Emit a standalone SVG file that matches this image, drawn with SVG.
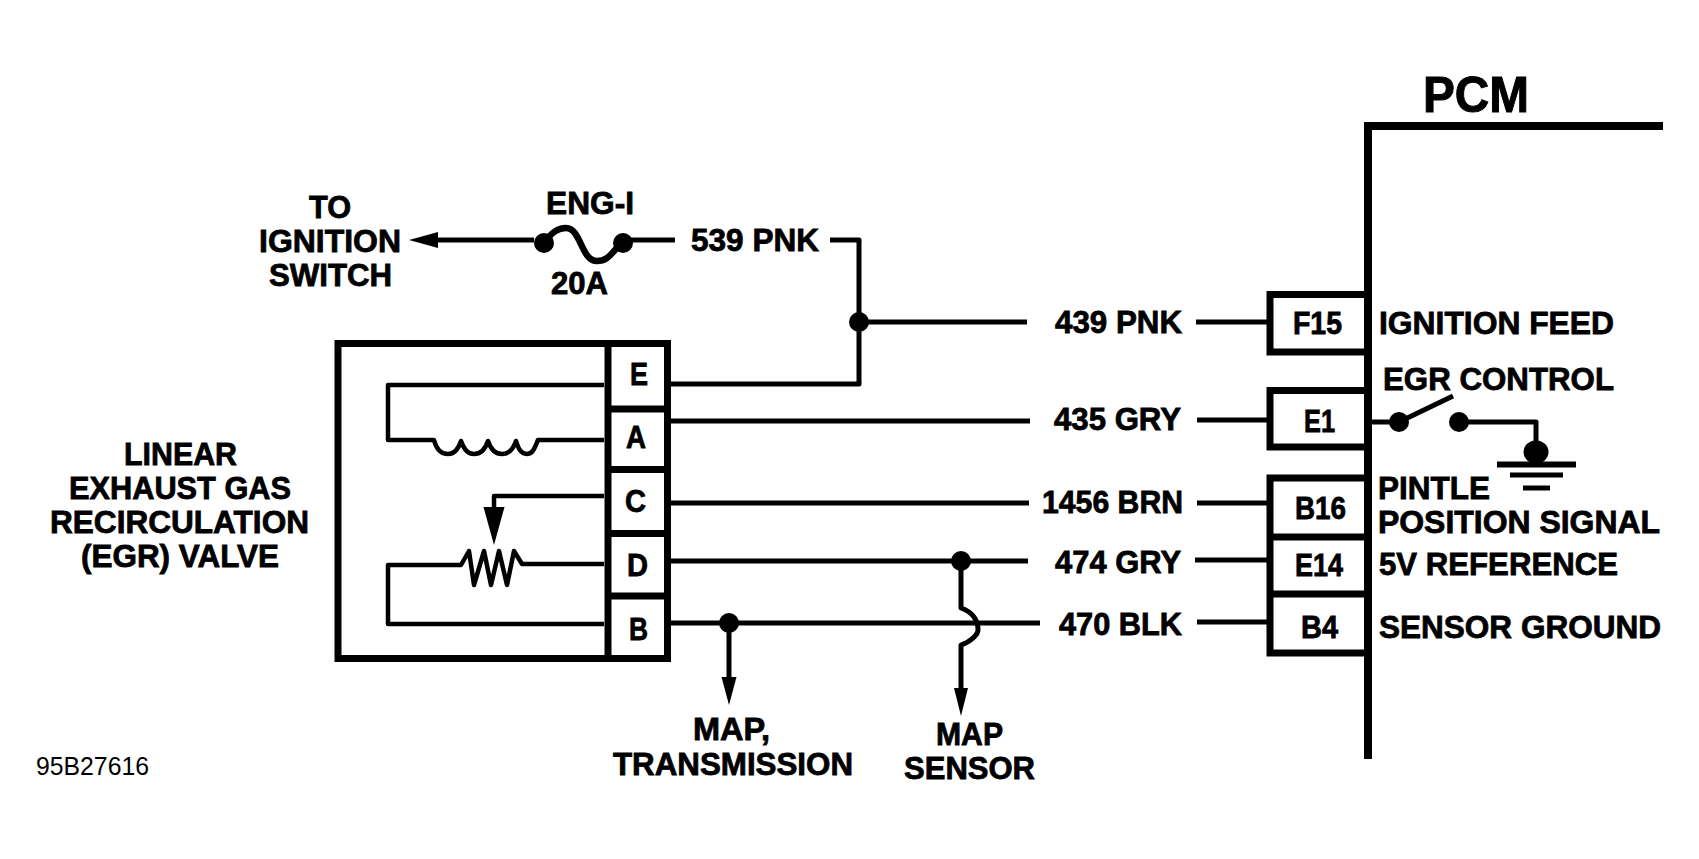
<svg xmlns="http://www.w3.org/2000/svg" width="1699" height="859" viewBox="0 0 1699 859">
<style>
text{font-family:"Liberation Sans",Arial,sans-serif;font-weight:700;font-size:32px;fill:#000;stroke:#000;stroke-width:.8;}
text.id{font-weight:400;font-size:25px;stroke:none;}
text.big{font-size:50px;stroke-width:1;}
.w{fill:none;stroke:#000;stroke-width:5;stroke-linejoin:round;}
.f{fill:none;stroke:#000;stroke-width:6.500;}
.t{fill:none;stroke:#000;stroke-width:4.5;stroke-linejoin:round;}
.b{fill:none;stroke:#000;stroke-width:7;stroke-linejoin:miter;}
.p{fill:none;stroke:#000;stroke-width:8;stroke-linejoin:miter;}
.d{fill:#000;}
</style>
<rect width="1699" height="859" fill="#fff"/>
<g id="connectors">
<path class="w" d="M436,240H534"/>
<path class="w" d="M623,240H675"/>
<path class="w" d="M830,240H859V384H671"/>
<path class="w" d="M859,322H1027"/>
<path class="w" d="M671,421H1030"/>
<path class="w" d="M671,503H1029"/>
<path class="w" d="M671,561H1028"/>
<path class="w" d="M671,623H1040"/>
<path class="w" d="M729,623V680"/>
<path class="w" d="M961,561V608C972,612 978,620 978,630C978,634 972,641 961,645V690"/>
<path class="w" d="M1196,322H1267"/>
<path class="w" d="M1197,420H1267"/>
<path class="w" d="M1197,503H1267"/>
<path class="w" d="M1195,560H1267"/>
<path class="w" d="M1197,622H1267"/>
<path class="d" d="M409,240L438,232V248Z"/>
<path class="d" d="M729,705L721.500,677H736.500Z"/>
<path class="d" d="M961,716L954,688H968Z"/>
<circle class="d" cx="859" cy="322" r="10"/>
<circle class="d" cx="729" cy="623" r="10"/>
<circle class="d" cx="961" cy="561" r="10"/>
</g>
<g id="to-ignition-switch">
<text x="309" y="218" textLength="42" lengthAdjust="spacingAndGlyphs">TO</text>
<text x="259" y="252" textLength="142" lengthAdjust="spacingAndGlyphs">IGNITION</text>
<text x="269" y="286" textLength="123" lengthAdjust="spacingAndGlyphs">SWITCH</text>
</g>
<g id="fuse">
<text x="546" y="214" textLength="88" lengthAdjust="spacingAndGlyphs">ENG-I</text>
<circle class="d" cx="544" cy="243" r="10"/>
<circle class="d" cx="623" cy="243" r="10"/>
<path class="f" d="M544,243C552,232 558,228 566,228C581,228 581,261 597,261C610,261 612,250 623,243"/>
<text x="551" y="294" textLength="57" lengthAdjust="spacingAndGlyphs">20A</text>
</g>
<g id="wire-labels">
<text x="691" y="251" textLength="128" lengthAdjust="spacingAndGlyphs">539 PNK</text>
<text x="1055" y="333" textLength="127" lengthAdjust="spacingAndGlyphs">439 PNK</text>
<text x="1054" y="430" textLength="127" lengthAdjust="spacingAndGlyphs">435 GRY</text>
<text x="1042" y="513" textLength="141" lengthAdjust="spacingAndGlyphs">1456 BRN</text>
<text x="1055" y="573" textLength="126" lengthAdjust="spacingAndGlyphs">474 GRY</text>
<text x="1059" y="635" textLength="123" lengthAdjust="spacingAndGlyphs">470 BLK</text>
</g>
<g id="egr-valve">
<rect class="b" x="338" y="343.500" width="329.500" height="315"/>
<path class="b" d="M608,343.500V658.500M608,409H667M608,469.500H667M608,533.500H667M608,596H667"/>
<text x="630" y="385" textLength="18" lengthAdjust="spacingAndGlyphs">E</text>
<text x="626" y="448" textLength="20" lengthAdjust="spacingAndGlyphs">A</text>
<text x="625" y="512" textLength="21" lengthAdjust="spacingAndGlyphs">C</text>
<text x="627" y="576" textLength="21" lengthAdjust="spacingAndGlyphs">D</text>
<text x="629" y="640" textLength="19" lengthAdjust="spacingAndGlyphs">B</text>
<path class="t" d="M604,385H388V440H434C436,448 440,454 448,454C456,454 459,447 461,441C463,447 466,454 474,454C482,454 486,447 488,441C490,447 494,454 502,454C510,454 514,447 516,441C518,447 520,454 527,454C533,454 535,447 538,440H604"/>
<path class="t" d="M604,496H494V510"/>
<path class="d" d="M494,545L483.500,507H504.500Z"/>
<path class="t" d="M604,564H522L514,551L507,585L499,551L491,585L484,551L474,585L469,551L461,565H388V624H604"/>
<text x="124" y="465" textLength="113" lengthAdjust="spacingAndGlyphs">LINEAR</text>
<text x="69" y="499" textLength="222" lengthAdjust="spacingAndGlyphs">EXHAUST GAS</text>
<text x="50" y="533" textLength="259" lengthAdjust="spacingAndGlyphs">RECIRCULATION</text>
<text x="81" y="567" textLength="198" lengthAdjust="spacingAndGlyphs">(EGR) VALVE</text>
</g>
<g id="pcm">
<path class="p" d="M1663,126H1368V759"/>
<text class="big" x="1423" y="112" textLength="106" lengthAdjust="spacingAndGlyphs">PCM</text>
<path class="b" d="M1368,294.500H1270V352H1368"/>
<path class="b" d="M1368,390.500H1270V447H1368"/>
<path class="b" d="M1368,478H1270V653H1368M1270,537H1368M1270,594H1368"/>
<text x="1293" y="334" textLength="49" lengthAdjust="spacingAndGlyphs">F15</text>
<text x="1304" y="432" textLength="31" lengthAdjust="spacingAndGlyphs">E1</text>
<text x="1295" y="519" textLength="51" lengthAdjust="spacingAndGlyphs">B16</text>
<text x="1295" y="576" textLength="48" lengthAdjust="spacingAndGlyphs">E14</text>
<text x="1301" y="638" textLength="37" lengthAdjust="spacingAndGlyphs">B4</text>
<text x="1379" y="334" textLength="235" lengthAdjust="spacingAndGlyphs">IGNITION FEED</text>
<text x="1383" y="390" textLength="231" lengthAdjust="spacingAndGlyphs">EGR CONTROL</text>
<text x="1378" y="499" textLength="112" lengthAdjust="spacingAndGlyphs">PINTLE</text>
<text x="1378" y="533" textLength="282" lengthAdjust="spacingAndGlyphs">POSITION SIGNAL</text>
<text x="1379" y="575" textLength="239" lengthAdjust="spacingAndGlyphs">5V REFERENCE</text>
<text x="1379" y="638" textLength="282" lengthAdjust="spacingAndGlyphs">SENSOR GROUND</text>
</g>
<g id="egr-control-switch">
<path class="w" d="M1368,422H1399L1453,396"/>
<circle class="d" cx="1399" cy="422" r="10"/>
<circle class="d" cx="1459" cy="422" r="10"/>
<path class="w" d="M1459,422H1536V445"/>
<ellipse class="d" cx="1536" cy="452" rx="12.500" ry="11.500"/>
<rect class="d" x="1497" y="461.500" width="79" height="6"/>
<rect class="d" x="1510" y="472.500" width="53" height="5"/>
<rect class="d" x="1523" y="485.500" width="27" height="5"/>
</g>
<g id="map-transmission">
<text x="693" y="740" textLength="77" lengthAdjust="spacingAndGlyphs">MAP,</text>
<text x="613" y="775" textLength="240" lengthAdjust="spacingAndGlyphs">TRANSMISSION</text>
</g>
<g id="map-sensor">
<text x="936" y="745" textLength="67" lengthAdjust="spacingAndGlyphs">MAP</text>
<text x="904" y="779" textLength="131" lengthAdjust="spacingAndGlyphs">SENSOR</text>
</g>
<text class="id" x="36" y="775" textLength="113" lengthAdjust="spacingAndGlyphs">95B27616</text>
</svg>
